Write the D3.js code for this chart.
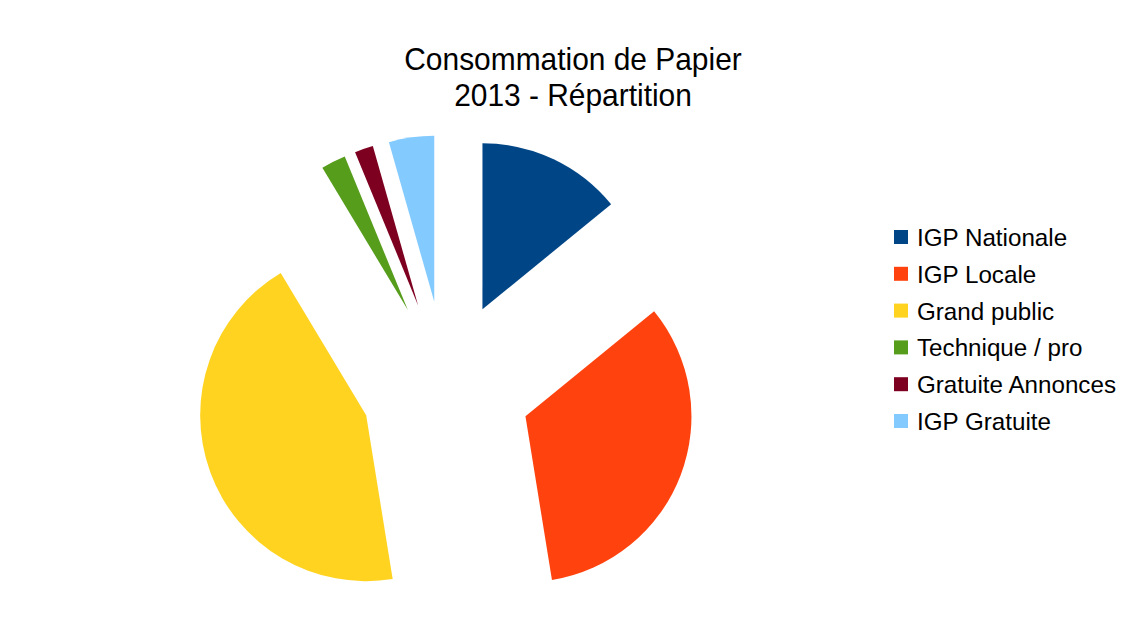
<!DOCTYPE html>
<html>
<head>
<meta charset="utf-8">
<script src="https://cdn.jsdelivr.net/npm/d3@7"></script>
<style>
  html, body { margin: 0; padding: 0; background: #fff; }
  svg { display: block; font-family: "Liberation Sans", Arial, sans-serif; }
</style>
</head>
<body>
<svg id="chart" width="1133" height="641"></svg>
<script>
// chart data (percent of paper use)
var categories = ["IGP Nationale", "IGP Locale", "Grand public", "Technique / pro", "Gratuite Annonces", "IGP Gratuite"];
var shares = [14.1, 33.3, 43.9, 2.4, 1.8, 4.4];
var titleLines = ["Consommation de Papier", "2013 - Répartition"];

var colors = ["#004586", "#ff420e", "#ffd320", "#579d1c", "#7e0021", "#83caff"];

var Chart = {
	W: 1133,
	H: 641,
	CX: 446,
	CY: 386,
	RADIUS: 166,
	EXPLODE: 85,

	draw: function() {
		var svg = d3.select('#chart');

		svg.append('rect')
			.attr('width', Chart.W)
			.attr('height', Chart.H)
			.attr('fill', '#ffffff');

		// title, two centred lines (glyphs a bit narrower than the font)
		svg.append('g')
			.attr('transform', 'translate(573,0) scale(0.965,1)')
			.selectAll('text')
			.data(titleLines)
			.enter()
			.append('text')
			.attr('x', 0)
			.attr('y', function(d, i) { return 70 + i * 36; })
			.attr('text-anchor', 'middle')
			.attr('font-size', 31)
			.attr('fill', '#000')
			.text(function(d) { return d; });

		var rows = categories.map(function(c, i) { return { name: c, value: shares[i], color: colors[i] }; });

		var pie = d3.pie()
			.sort(null)
			.value(function(d) { return d.value; });

		var arc = d3.arc()
			.innerRadius(0)
			.outerRadius(Chart.RADIUS);

		// every slice pushed out along its bisector
		svg.append('g')
			.attr('transform', 'translate(' + Chart.CX + ',' + Chart.CY + ')')
			.selectAll('path')
			.data(pie(rows))
			.enter()
			.append('path')
			.attr('d', arc)
			.attr('fill', function(d) { return d.data.color; })
			.attr('transform', function(d) {
				var a = (d.startAngle + d.endAngle) / 2;
				return 'translate(' + (Math.sin(a) * Chart.EXPLODE) + ',' + (-Math.cos(a) * Chart.EXPLODE) + ')';
			});

		// legend
		var legend = svg.append('g')
			.attr('transform', 'translate(894,230)')
			.selectAll('g')
			.data(rows)
			.enter()
			.append('g')
			.attr('transform', function(d, i) { return 'translate(0,' + (i * 36.8) + ')'; });

		legend.append('rect')
			.attr('width', 14)
			.attr('height', 14)
			.attr('fill', function(d) { return d.color; });

		legend.append('text')
			.attr('x', 23)
			.attr('y', 16)
			.attr('font-size', 24.2)
			.attr('fill', '#000')
			.text(function(d) { return d.name; });
	}
};

Chart.draw();
</script>
</body>
</html>
